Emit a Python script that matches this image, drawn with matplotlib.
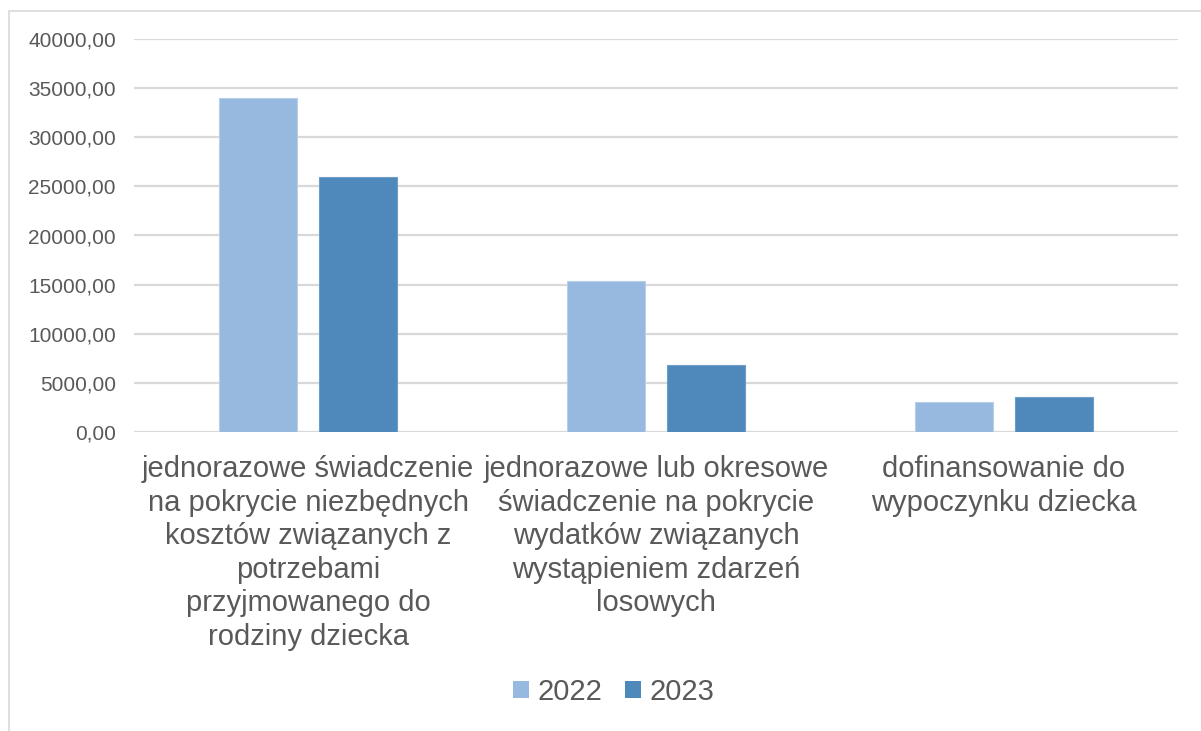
import matplotlib
matplotlib.use("Agg")
import matplotlib.pyplot as plt
import numpy as np
from matplotlib.patches import Patch, Rectangle

categories = [
    "jednorazowe świadczenie\nna pokrycie niezbędnych\nkosztów związanych z\npotrzebami\nprzyjmowanego do\nrodziny dziecka",
    "jednorazowe lub okresowe\nświadczenie na pokrycie\nwydatków związanych\nwystąpieniem zdarzeń\nlosowych",
    "dofinansowanie do\nwypoczynku dziecka",
]
series_names = ["2022", "2023"]
values_2022 = [34000, 15400, 3000]
values_2023 = [26000, 6800, 3550]
yticks = [0, 5000, 10000, 15000, 20000, 25000, 30000, 35000, 40000]

col_2022 = "#98B9DF"
col_2023 = "#4F89BC"
txt = "#595959"
grid = "#D9D9D9"

plt.rcParams["font.family"] = ["Liberation Sans", "DejaVu Sans"]

fig = plt.figure(figsize=(12.01, 7.31), dpi=100)
ax = fig.add_axes([134 / 1201, 1 - 431.7 / 731, (1178 - 134) / 1201, (431.7 - 39.3) / 731])

# outer chart border (cut off on right and bottom like the source)
fig.patches.append(Rectangle((9 / 1201, -0.1), 1.2, 1 - 10.5 / 731 + 0.1,
                             transform=fig.transFigure, fill=False,
                             edgecolor=grid, linewidth=1.2))

x = np.arange(len(categories))
w = 0.224
ax.bar(x - 0.1425, values_2022, w, color=col_2022, edgecolor="#B8CFEA", linewidth=0.8, zorder=3)
ax.bar(x + 0.1425, values_2023, w, color=col_2023, edgecolor="#6E9DC8", linewidth=0.8, zorder=3)

ax.set_xlim(-0.5, 2.5)
ax.set_ylim(0, 40000)
ax.set_yticks(yticks)
ax.set_yticklabels([f"{v:.2f}".replace(".", ",") for v in yticks], fontsize=15, color=txt)
ax.set_xticks(x)
ax.set_xticklabels(categories, fontsize=21, color=txt, linespacing=1.25)
ax.tick_params(axis="both", length=0)
ax.tick_params(axis="y", pad=13)
ax.tick_params(axis="x", pad=17)
ax.grid(axis="y", color=grid, linewidth=1.6, zorder=0)
for s in ax.spines.values():
    s.set_visible(False)

handles = [Patch(facecolor=col_2022), Patch(facecolor=col_2023)]
leg = fig.legend(handles, series_names, loc="center", bbox_to_anchor=(0.511, 1 - 692 / 731),
                 ncol=2, frameon=False, fontsize=21, handlelength=0.55, handleheight=0.55,
                 handletextpad=0.3, columnspacing=0.75)
for t in leg.get_texts():
    t.set_color(txt)

fig.savefig("out.png", dpi=100)
